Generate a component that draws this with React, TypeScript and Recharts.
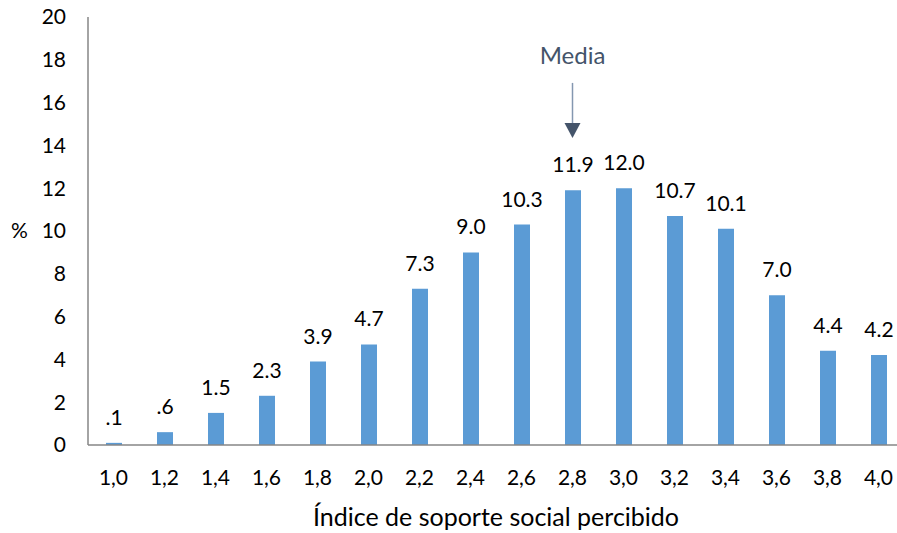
import { Bar, BarChart, LabelList, ReferenceDot, XAxis, YAxis } from "recharts";

// Índice de soporte social percibido: % by index value
const categories: string[] = [
  "1,0", "1,2", "1,4", "1,6", "1,8", "2,0", "2,2", "2,4",
  "2,6", "2,8", "3,0", "3,2", "3,4", "3,6", "3,8", "4,0",
];
const percent: number[] = [
  0.1, 0.6, 1.5, 2.3, 3.9, 4.7, 7.3, 9.0,
  10.3, 11.9, 12.0, 10.7, 10.1, 7.0, 4.4, 4.2,
];
const yTicks: number[] = [0, 2, 4, 6, 8, 10, 12, 14, 16, 18, 20];

// where the "Media" arrow points (category + tip value)
const meanCategory = "2,8";
const meanArrowTip = 14.35;

const chartData = categories.map((c, i) => ({ cat: c, pct: percent[i] }));

const FONT = "Lato, 'Open Sans', sans-serif";

const fmt = (v: number) => (v < 1 ? v.toFixed(1).slice(1) : v.toFixed(1));

function MediaArrow(props: any) {
  const { cx, cy } = props;
  if (cx == null || cy == null) return null;
  return (
    <g>
      <text
        x={cx}
        y={cy - 83}
        textAnchor="middle"
        dominantBaseline="central"
        fill="#44546a"
        fontSize={24}
        fontFamily={FONT}
      >
        Media
      </text>
      <line x1={cx} y1={cy - 55} x2={cx} y2={cy - 14} stroke="#8497b0" strokeWidth={1.5} />
      <path d={`M ${cx - 8} ${cy - 15} L ${cx + 8} ${cy - 15} L ${cx} ${cy} Z`} fill="#44546a" />
    </g>
  );
}

export default function App() {
  return (
    <div
      style={{
        position: "absolute",
        left: 0,
        top: 0,
        width: 897,
        height: 533,
        overflow: "hidden",
        background: "#fff",
      }}
    >
      <BarChart
        width={904}
        height={533}
        data={chartData}
        margin={{ top: 17, right: 0, bottom: 0, left: 0 }}
        barCategoryGap={0}
      >
        <XAxis
          dataKey="cat"
          height={88}
          tickLine={false}
          tickSize={6}
          tickMargin={19}
          axisLine={{ stroke: "#868686", strokeWidth: 1.5 }}
          tick={{ fill: "#000", fontSize: 21, fontFamily: FONT }}
          interval={0}
          label={{
            value: "Índice de soporte social percibido",
            position: "insideBottom",
            offset: 7,
            fill: "#000",
            fontSize: 25,
            fontFamily: FONT,
          }}
        />
        <YAxis
          width={88}
          domain={[0, 20]}
          ticks={yTicks}
          interval={0}
          tickLine={false}
          tickSize={6}
          tickMargin={16}
          axisLine={{ stroke: "#868686", strokeWidth: 1.5 }}
          tick={{ fill: "#000", fontSize: 21, fontFamily: FONT }}
          label={{
            value: "%",
            position: "insideLeft",
            angle: 0,
            offset: 11,
            fill: "#000",
            fontSize: 21,
            fontFamily: FONT,
          }}
        />
        <Bar dataKey="pct" fill="#5b9bd5" barSize={16} isAnimationActive={false}>
          <LabelList
            dataKey="pct"
            position="top"
            offset={18}
            formatter={(v: any) => fmt(Number(v))}
            fill="#000"
            fontSize={21}
            fontFamily={FONT}
          />
        </Bar>
        <ReferenceDot
          x={meanCategory}
          y={meanArrowTip}
          r={0}
          shape={MediaArrow}
          ifOverflow="visible"
        />
      </BarChart>
    </div>
  );
}
